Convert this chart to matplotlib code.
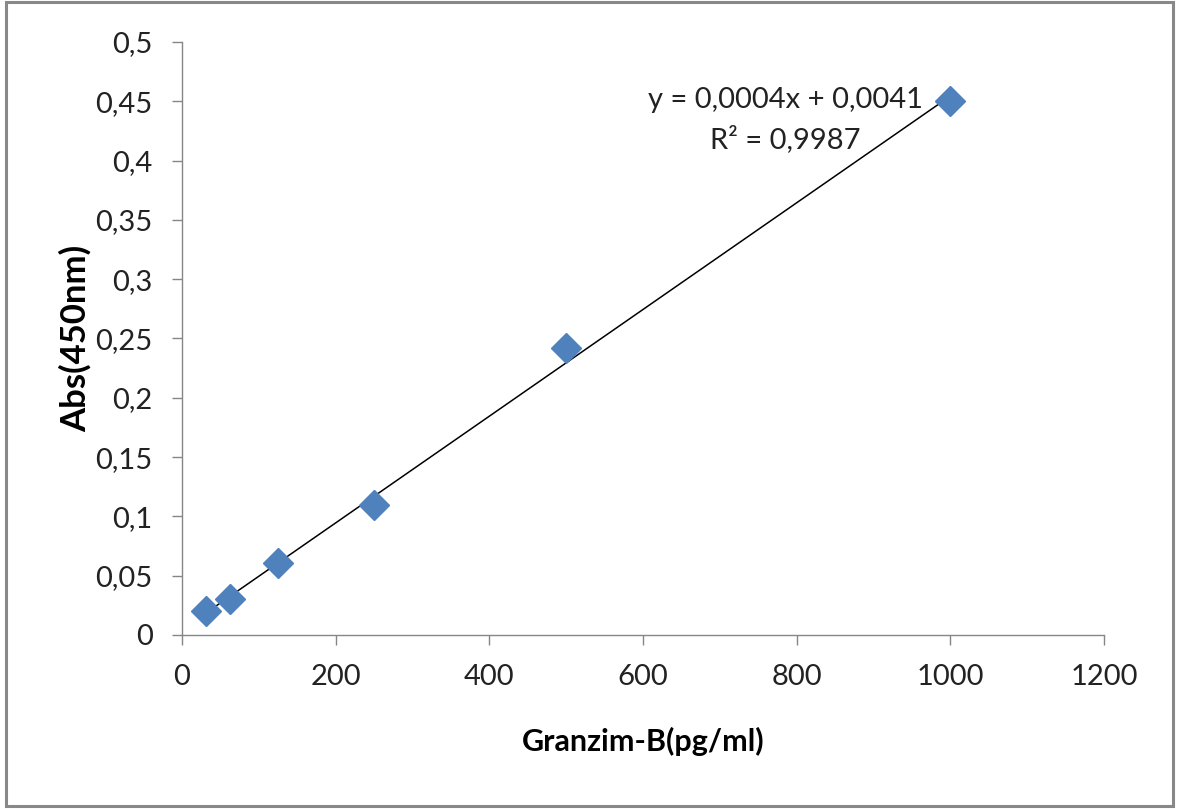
import numpy as np
import matplotlib
matplotlib.use("Agg")
import matplotlib.pyplot as plt
from matplotlib.patches import Rectangle
from matplotlib.ticker import FuncFormatter

plt.rcParams['font.family'] = ['Lato', 'DejaVu Sans']

# standard curve data
conc = [31.25, 62.5, 125, 250, 500, 1000]
absorb = [0.020, 0.030, 0.061, 0.110, 0.242, 0.450]
eq_text = "y = 0,0004x + 0,0041"
r2_text = "R² = 0,9987"

fig = plt.figure(figsize=(11.79, 8.09), dpi=100)
ax = fig.add_axes([0.1544, 0.2151, 0.782, 0.733])

# trendline
slope, inter = np.polyfit(conc, absorb, 1)
xs = np.array([min(conc), max(conc)])
ax.plot(xs, slope * xs + inter, color="black", lw=1.1, zorder=2)

ax.plot(conc, absorb, linestyle="none", marker="D", markersize=15,
        color="#4F81BD", markeredgecolor="#4F81BD", zorder=3)

ax.set_xlim(0, 1200)
ax.set_ylim(0, 0.5)
ax.set_xticks(np.arange(0, 1201, 200))
ax.set_yticks(np.arange(0, 0.501, 0.05))
ax.yaxis.set_major_formatter(FuncFormatter(lambda v, p: ("%g" % round(v, 2)).replace(".", ",")))

for s in ["top", "right"]:
    ax.spines[s].set_visible(False)
for s in ["left", "bottom"]:
    ax.spines[s].set_color("#868686")
    ax.spines[s].set_linewidth(1.0)
ax.tick_params(axis="both", direction="out", length=7, width=1.0, color="#868686",
               labelsize=21, labelcolor="#222222", pad=14)

ax.set_xlabel("Granzim-B(pg/ml)", fontsize=22, fontweight="bold")
ax.set_ylabel("Abs(450nm)", fontsize=25, fontweight="bold")
ax.xaxis.set_label_coords(0.5, -0.18)
ax.yaxis.set_label_coords(-0.116, 0.5)
ax.xaxis.label.set_va("center")
ax.yaxis.label.set_va("center")

ax.text(0.654, 0.902, eq_text, transform=ax.transAxes, ha="center", va="center",
        fontsize=21, color="#222222")
ax.text(0.654, 0.836, r2_text, transform=ax.transAxes, ha="center", va="center",
        fontsize=21, color="#222222")

# outer chart frame
fig.patches.append(Rectangle((0.005, 0.004), 0.99, 0.993, transform=fig.transFigure,
                             fill=False, edgecolor="#888888", lw=2.2))

fig.savefig("out.png", dpi=100)
